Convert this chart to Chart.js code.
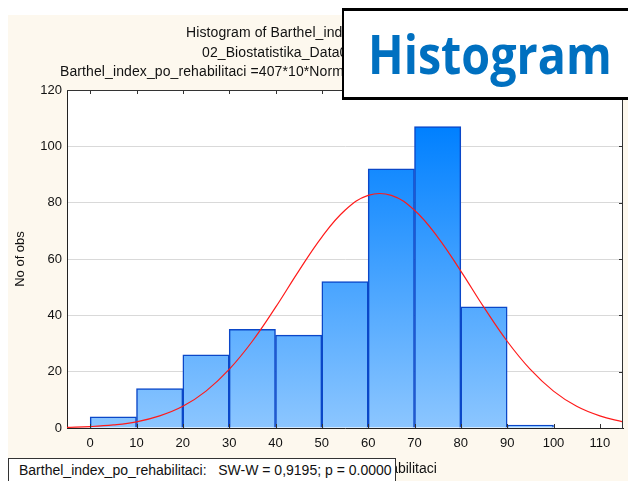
<!DOCTYPE html>
<html>
<head>
<meta charset="utf-8">
<script src="https://cdn.jsdelivr.net/npm/chart.js@4.4.1/dist/chart.umd.min.js"></script>
<style>
body { margin: 0; width: 628px; height: 481px; overflow: hidden; background: #fff; position: relative; font-family: "Liberation Sans", Arial, sans-serif; }
#wrap { position: absolute; left: 0; top: 0; width: 628px; height: 481px; }
.t { position: absolute; white-space: nowrap; font-size: 14px; letter-spacing: 0.1px; color: #111; line-height: 16px; }
#big { position: absolute; left: 342px; top: 8px; width: 400px; height: 86px; border: 3px solid #000; border-left-width: 2px; background: #fff; }
#big span { position: absolute; left: 24px; top: 6px; font-family: "Open Sans", sans-serif; font-weight: bold; font-size: 53px; color: #0070c0; line-height: normal; transform: scaleX(0.88); transform-origin: left top; }
#stat { position: absolute; left: 8px; top: 458px; width: 386px; height: 40px; border: 1px solid #333; background: #fff; }
#stat span { position: absolute; left: 10px; top: 3px; font-size: 14px; color: #111; white-space: pre; }
</style>
</head>
<body>
<div id="wrap"><canvas id="myChart" width="628" height="481"></canvas></div>
<div class="t" style="left:186px; top:24px;">Histogram of Barthel_index_po_rehabilitaci</div>
<div class="t" style="left:202px; top:44px;">02_Biostatistika_Data01.sta 10v*407c</div>
<div class="t" style="left:60px; top:63px;">Barthel_index_po_rehabilitaci =407*10*Normal(x; 62,5; 19,5)</div>
<div id="big"><span>Histogram</span></div>
<div id="stat"><span>Barthel_index_po_rehabilitaci:   SW-W = 0,9195; p = 0.0000</span></div>
<script>
// histogram bins (width 10) and counts
var binStarts = [0, 10, 20, 30, 40, 50, 60, 70, 80, 90, 100];
var counts = [4, 14, 26, 35, 33, 52, 92, 107, 43, 1, 0];

// fitted normal curve
var curveX = [-5, 0, 5, 10, 15, 20, 25, 30, 35, 40, 45, 50, 55, 60, 65, 70, 75, 80, 85, 90, 95, 100, 105, 110, 115];
var curveY = [0.2, 0.5, 1.1, 2.2, 4.3, 7.7, 13.1, 20.8, 30.8, 42.8, 55.7, 67.8, 77.3, 82.6, 82.6, 77.3, 67.8, 55.7, 42.8, 30.8, 20.8, 13.1, 7.7, 4.3, 2.2];

var xTicks = [0, 10, 20, 30, 40, 50, 60, 70, 80, 90, 100, 110];
var yTicks = [0, 20, 40, 60, 80, 100, 120];

var barData = binStarts.map(function (s, i) { return { x: s + 5, y: counts[i] }; });
var lineData = curveX.map(function (x, i) { return { x: x, y: curveY[i] }; });

var frame = {
    id: 'frame',
    beforeDraw: function (chart) {
        var c = chart.ctx, a = chart.chartArea;
        c.save();
        c.fillStyle = '#fff';
        c.fillRect(0, 0, chart.width, chart.height);
        c.fillStyle = '#fdf8ee';
        c.fillRect(8, 15, chart.width - 8, chart.height - 15);
        c.fillStyle = '#fff';
        c.fillRect(a.left, a.top, a.right - a.left, a.bottom - a.top);
        c.restore();
    },
    afterDraw: function (chart) {
        var c = chart.ctx, a = chart.chartArea, xs = chart.scales.x, ys = chart.scales.y;
        c.save();
        c.strokeStyle = '#333';
        c.lineWidth = 1;
        c.beginPath();
        c.moveTo(a.left, a.top + 0.5); c.lineTo(a.right, a.top + 0.5);
        c.moveTo(a.right - 0.5, a.top); c.lineTo(a.right - 0.5, a.bottom);
        xTicks.forEach(function (v) {
            var px = Math.round(xs.getPixelForValue(v)) + 0.5;
            c.moveTo(px, a.top); c.lineTo(px, a.top + 4);
            c.moveTo(px, a.bottom); c.lineTo(px, a.bottom - 4);
        });
        yTicks.forEach(function (v) {
            var py = Math.round(ys.getPixelForValue(v)) + 0.5;
            c.moveTo(a.right, py); c.lineTo(a.right - 4, py);
        });
        c.stroke();
        c.restore();
    }
};

var ctx = document.getElementById('myChart').getContext('2d');
var myChart = new Chart(ctx, {
    data: {
        datasets: [{
            type: 'line',
            data: lineData,
            borderColor: '#ff1a1a',
            borderWidth: 1.2,
            pointRadius: 0,
            tension: 0.4,
            order: 0
        }, {
            type: 'bar',
            data: barData,
            barPercentage: 1,
            categoryPercentage: 1,
            borderColor: '#0b47c8',
            borderWidth: 1.5,
            order: 1,
            backgroundColor: function (context) {
                var chart = context.chart;
                if (!chart.chartArea) return '#5aabff';
                var ys = chart.scales.y;
                var g = chart.ctx.createLinearGradient(0, ys.getPixelForValue(0), 0, ys.getPixelForValue(Math.max.apply(null, counts)));
                g.addColorStop(0, '#8cc6ff');
                g.addColorStop(1, '#0080ff');
                return g;
            }
        }]
    },
    options: {
        responsive: false,
        animation: false,
        layout: { padding: { left: 0, top: 90, right: 5, bottom: 0 } },
        plugins: {
            legend: { display: false },
            tooltip: { enabled: false }
        },
        scales: {
            x: {
                type: 'linear',
                min: -5,
                max: 115,
                offset: false,
                afterFit: function (s) { s.height = 53; },
                afterBuildTicks: function (s) { s.ticks = xTicks.map(function (v) { return { value: v }; }); },
                grid: { display: false, drawTicks: false },
                border: { color: '#222' },
                ticks: { padding: 8, color: '#111', font: { family: 'Liberation Sans', size: 13 }, maxRotation: 0 },
                title: { display: true, text: 'Barthel_index_po_rehabilitaci', color: '#111', font: { family: 'Liberation Sans', size: 14 }, padding: { top: 0, bottom: 3 } }
            },
            y: {
                min: 0,
                max: 120,
                afterFit: function (s) { s.width = 67; },
                afterBuildTicks: function (s) { s.ticks = yTicks.map(function (v) { return { value: v }; }); },
                grid: { color: '#d9d9d9', drawTicks: false },
                border: { color: '#222' },
                ticks: { padding: 5, color: '#111', font: { family: 'Liberation Sans', size: 13 } },
                title: { display: true, text: 'No of obs', color: '#111', font: { family: 'Liberation Sans', size: 13 }, padding: { top: 13, bottom: 0 } }
            }
        }
    },
    plugins: [frame]
});
</script>
</body>
</html>
